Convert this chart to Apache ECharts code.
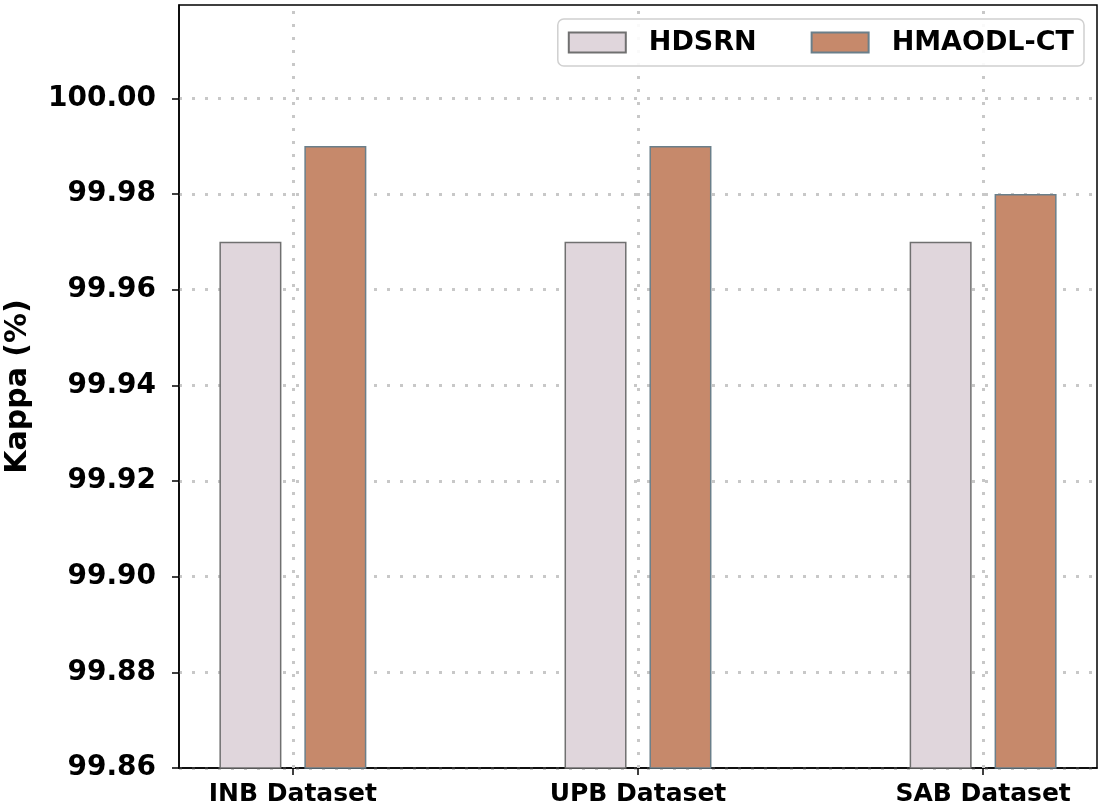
<!DOCTYPE html>
<html>
<head>
<meta charset="utf-8">
<script src="https://cdn.jsdelivr.net/npm/echarts@6/dist/echarts.min.js"></script>
<style>html,body{margin:0;padding:0;background:#fff}#c{width:1105px;height:809px}</style>
</head>
<body>
<div id="c"></div>
<script>
const categories = ['INB Dataset', 'UPB Dataset', 'SAB Dataset'];
const hdsrn = [99.97, 99.97, 99.97];
const hmaodl = [99.99, 99.99, 99.98];
const yTicks = [99.86, 99.88, 99.90, 99.92, 99.94, 99.96, 99.98, 100.00];
const seriesNames = ['HDSRN', 'HMAODL-CT'];

const xPos = categories.map((c, i) => i);
const font = 'DejaVu Sans';
const chart = echarts.init(document.getElementById('c'), null, {renderer: 'canvas'});
const dotted = {color: '#c8c8c8', width: 3, type: [3, 10]};
chart.setOption({
  animation: false,
  backgroundColor: '#fff',
  grid: {left: 179, right: 8, top: 5, bottom: 41, containLabel: false, outerBoundsMode: 'none',
    show: true, borderColor: '#000', borderWidth: 1.5, backgroundColor: 'transparent'},
  legend: {
    right: 21, top: 19, z: 20,
    icon: 'rect',
    itemWidth: 57, itemHeight: 20, itemGap: 54,
    padding: [10, 10, 10, 10],
    backgroundColor: 'rgba(255,255,255,0.9)',
    borderColor: '#d0d0d0', borderWidth: 1.5, borderRadius: 6,
    textStyle: {fontFamily: font, fontWeight: 'bold', fontSize: 27, color: '#000', padding: [0, 0, 0, 18]},
    data: seriesNames
  },
  xAxis: {
    type: 'value', min: -0.33, max: 2.33,
    axisLine: {show: true, onZero: false, lineStyle: {color: '#000', width: 1.5}},
    axisTick: {show: true, length: 7, lineStyle: {color: '#000', width: 1.5}, customValues: xPos},
    axisLabel: {customValues: xPos, margin: 14, fontFamily: font, fontWeight: 'bold', fontSize: 25, color: '#000',
      formatter: v => categories[Math.round(v)]},
    splitLine: {show: false}
  },
  yAxis: {
    type: 'value', min: 99.86, max: 100.0195, interval: 0.02,
    name: 'Kappa (%)', nameLocation: 'middle', nameGap: 146,
    nameTextStyle: {fontFamily: font, fontWeight: 'bold', fontSize: 30, color: '#000'},
    axisLine: {show: true, onZero: false, lineStyle: {color: '#000', width: 1.5}},
    axisTick: {show: true, length: 7, lineStyle: {color: '#000', width: 1.5}, customValues: yTicks},
    axisLabel: {customValues: yTicks, margin: 23, fontFamily: font, fontWeight: 'bold', fontSize: 28, color: '#000',
      formatter: v => v.toFixed(2)},
    splitLine: {show: true, lineStyle: dotted}
  },
  series: [
    {
      name: 'grid-x', type: 'line', data: [], silent: true,
      markLine: {silent: true, symbol: 'none', label: {show: false}, lineStyle: dotted,
        data: xPos.map(x => ({xAxis: x}))},
      z: 1
    },
    {
      name: seriesNames[0], type: 'bar', barWidth: 62, barGap: '37%',
      itemStyle: {color: '#e0d6dc', borderColor: '#707070', borderWidth: 1.5},
      data: hdsrn.map((v, i) => [xPos[i], v]),
      z: 2
    },
    {
      name: seriesNames[1], type: 'bar', barWidth: 62, barGap: '37%',
      itemStyle: {color: '#c6896b', borderColor: '#6a7f8a', borderWidth: 1.5},
      data: hmaodl.map((v, i) => [xPos[i], v]),
      z: 2
    }
  ]
});
</script>
</body>
</html>
